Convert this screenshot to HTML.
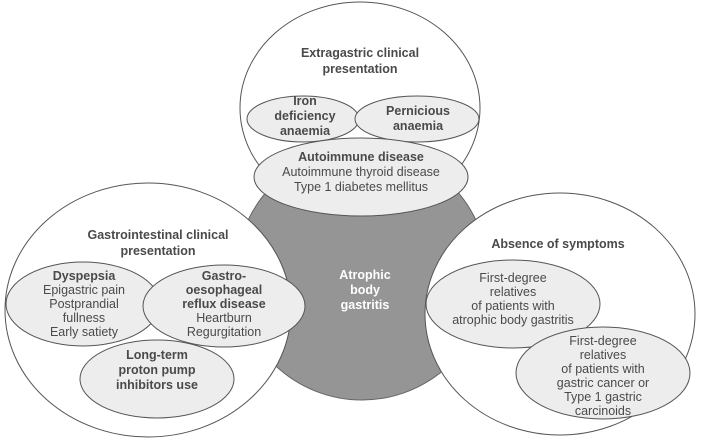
<!DOCTYPE html>
<html><head><meta charset="utf-8"><style>
html,body{margin:0;padding:0;background:#fff;}
svg{display:block;}
text{font-family:"Liberation Sans",sans-serif;font-size:12.5px;fill:#4a4a4a;text-anchor:middle;}
.b{font-weight:bold;}
</style></head><body>
<svg width="703" height="444" viewBox="0 0 703 444" xmlns="http://www.w3.org/2000/svg">
<circle cx="362" cy="274" r="126" fill="#959595" stroke="#666" stroke-width="1"/>
<g fill="#fff" stroke="#555" stroke-width="1">
<ellipse cx="360" cy="108" rx="120" ry="106"/>
<ellipse cx="148" cy="310" rx="143" ry="127"/>
<ellipse cx="560" cy="314" rx="135" ry="121"/>
</g>
<g fill="#ededed" stroke="#555" stroke-width="1">
<ellipse cx="303" cy="119" rx="56" ry="23"/>
<ellipse cx="417" cy="119" rx="62" ry="23"/>
<ellipse cx="361" cy="177" rx="107" ry="39"/>
<ellipse cx="83" cy="304" rx="77" ry="42"/>
<ellipse cx="224" cy="306" rx="81" ry="41"/>
<ellipse cx="157" cy="379" rx="77" ry="39"/>
<ellipse cx="513" cy="304" rx="87" ry="44"/>
<ellipse cx="603" cy="373" rx="87" ry="46"/>
</g>
<text class="b" x="360" y="57">Extragastric clinical</text>
<text class="b" x="360" y="73">presentation</text>
<text class="b" x="305" y="105">Iron</text>
<text class="b" x="305" y="120">deficiency</text>
<text class="b" x="305" y="135">anaemia</text>
<text class="b" x="418" y="115">Pernicious</text>
<text class="b" x="418" y="130">anaemia</text>
<text class="b" x="361" y="161">Autoimmune disease</text>
<text x="361" y="176">Autoimmune thyroid disease</text>
<text x="361" y="191">Type 1 diabetes mellitus</text>
<text class="b" x="158" y="239">Gastrointestinal clinical</text>
<text class="b" x="158" y="255">presentation</text>
<text class="b" x="84" y="280">Dyspepsia</text>
<text x="84" y="294">Epigastric pain</text>
<text x="84" y="308">Postprandial</text>
<text x="84" y="322">fullness</text>
<text x="84" y="336">Early satiety</text>
<text class="b" x="224" y="280">Gastro-</text>
<text class="b" x="224" y="294">oesophageal</text>
<text class="b" x="224" y="308">reflux disease</text>
<text x="224" y="322">Heartburn</text>
<text x="224" y="336">Regurgitation</text>
<text class="b" x="157" y="359">Long-term</text>
<text class="b" x="157" y="374">proton pump</text>
<text class="b" x="157" y="389">inhibitors use</text>
<text class="b" x="365" y="279" style="fill:#fff">Atrophic</text>
<text class="b" x="365" y="294" style="fill:#fff">body</text>
<text class="b" x="365" y="309" style="fill:#fff">gastritis</text>
<text class="b" x="558" y="248">Absence of symptoms</text>
<text x="513" y="282">First-degree</text>
<text x="513" y="296">relatives</text>
<text x="513" y="310">of patients with</text>
<text x="513" y="324">atrophic body gastritis</text>
<text x="603" y="345">First-degree</text>
<text x="603" y="359">relatives</text>
<text x="603" y="373">of patients with</text>
<text x="603" y="387">gastric cancer or</text>
<text x="603" y="401">Type 1 gastric</text>
<text x="603" y="415">carcinoids</text>
</svg>
</body></html>
